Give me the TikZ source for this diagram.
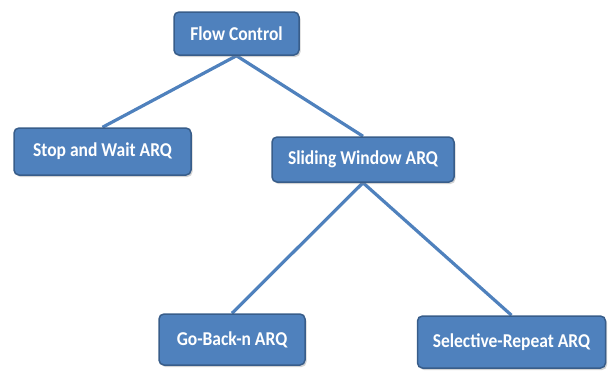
\documentclass[tikz,border=0pt]{standalone}
\usepackage{fontspec}
\setmainfont{Carlito}
\usepackage{xcolor}
\usetikzlibrary{shadows,backgrounds}
\definecolor{boxblue}{HTML}{4F81BD}
\definecolor{edgeblue}{HTML}{385D8A}
\newcommand{\tallbox}[1]{\scalebox{1}[1.12]{#1}}
\tikzset{
  arqbox/.style={draw=edgeblue, line width=1.5pt, fill=boxblue, rounded corners=5pt,
    text=white, font=\bfseries\fontsize{17.5}{19}\selectfont, inner sep=0pt,
    drop shadow={shadow xshift=1.5pt, shadow yshift=-2pt, opacity=0.35}},
  branch/.style={draw=boxblue, line width=3.2pt}
}

\begin{document}
\begin{tikzpicture}[x=1pt, y=-1pt]
    \useasboundingbox (0,0) rectangle (608,370);

    % Boxes
    \node[arqbox, minimum width=125pt, minimum height=43pt] (flow) at (236.5,33.5) {\tallbox{Flow Control}};
    \node[arqbox, minimum width=177pt, minimum height=47pt] (stop) at (102.5,151.5) {\tallbox{Stop and Wait ARQ}};
    \node[arqbox, minimum width=182pt, minimum height=45pt] (slide) at (363,159.5) {\tallbox{Sliding Window ARQ}};
    \node[arqbox, minimum width=146pt, minimum height=51pt] (gbn) at (232,339.5) {\tallbox{Go-Back-n ARQ}};
    \node[arqbox, minimum width=188pt, minimum height=52pt] (sr) at (511.5,342) {\tallbox{Selective-Repeat ARQ}};

    % Branches
    \begin{scope}[on background layer]
    \draw[branch] (flow.south) -- (stop.north);
    \draw[branch] (flow.south) -- (slide.north);
    \draw[branch] (slide.south) -- (gbn.north);
    \draw[branch] (slide.south) -- (sr.north);
    \end{scope}
\end{tikzpicture}
\end{document}
